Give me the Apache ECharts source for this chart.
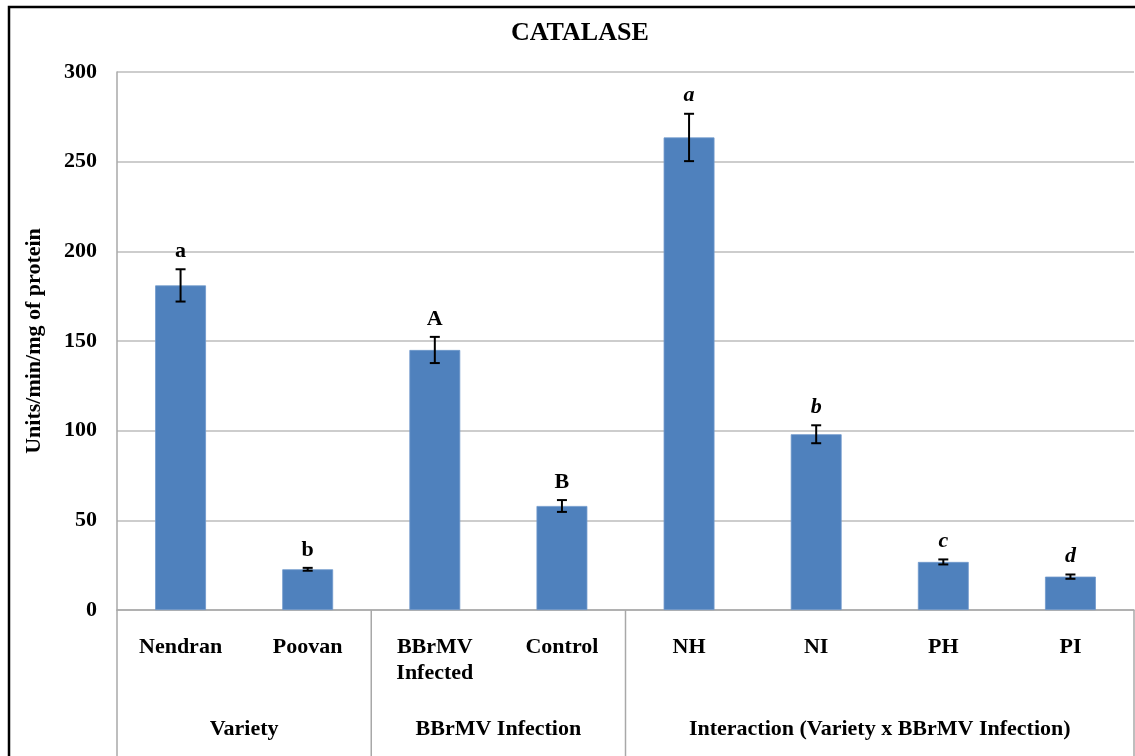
<!DOCTYPE html>
<html>
<head>
<meta charset="utf-8">
<script src="https://cdn.jsdelivr.net/npm/echarts@6/dist/echarts.min.js"></script>
<style>
  html, body { margin: 0; padding: 0; background: #fff; }
  #chart { width: 1135px; height: 756px; }
</style>
</head>
<body>
<div id="chart"></div>
<script>
// Catalase activity (Units/min/mg of protein), means with standard error
const categories = ['Nendran', 'Poovan', 'BBrMV\nInfected', 'Control', 'NH', 'NI', 'PH', 'PI'];
const catalase   = [181, 22.7, 145, 58, 263.5, 98, 26.8, 18.6];
const stdError   = [9, 0.8, 7.3, 3.3, 13.2, 5, 1.4, 1.2];
const letters    = ['a', 'b', 'A', 'B', 'a', 'b', 'c', 'd'];
const groupNames = ['Variety', 'BBrMV Infection', 'Interaction (Variety x BBrMV Infection)'];
const groupSizes = [2, 2, 4];
const yTicks     = { min: 0, max: 300, step: 50 };

const SERIF = '"Liberation Serif", "Times New Roman", serif';
const GRID_GRAY = '#bdbdbd';

const chart = echarts.init(document.getElementById('chart'), null, { renderer: 'canvas' });

const errorData = catalase.map((v, i) => [i, v, stdError[i], letters[i]]);

chart.setOption({
  animation: false,
  backgroundColor: '#fff',
  title: {
    text: 'CATALASE',
    left: 506, top: 15,
    textStyle: { fontFamily: SERIF, fontWeight: 'bold', fontSize: 26, color: '#000' }
  },
  grid: { left: 117, right: 1, top: 72, bottom: 146 },
  xAxis: {
    type: 'category',
    data: categories,
    axisLine: { show: true, lineStyle: { color: '#a8a8a8', width: 1.5 } },
    axisTick: { show: false },
    axisLabel: {
      interval: 0, margin: 24, color: '#000',
      fontFamily: SERIF, fontWeight: 'bold', fontSize: 22, lineHeight: 26
    }
  },
  yAxis: {
    type: 'value',
    min: yTicks.min, max: yTicks.max, interval: yTicks.step,
    name: 'Units/min/mg of protein',
    nameLocation: 'middle', nameGap: 72,
    nameTextStyle: { fontFamily: SERIF, fontWeight: 'bold', fontSize: 22, color: '#000' },
    axisLine: { show: true, lineStyle: { color: '#a8a8a8', width: 1.5 } },
    axisTick: { show: false },
    splitLine: { lineStyle: { color: GRID_GRAY, width: 1.5 } },
    axisLabel: { margin: 20, color: '#000', fontFamily: SERIF, fontWeight: 'bold', fontSize: 22 }
  },
  series: [
    {
      type: 'bar',
      data: catalase,
      barWidth: '40%',
      itemStyle: { color: '#4f81bd', borderColor: '#6f98cc', borderWidth: 0.8 }
    },
    {
      type: 'custom',
      data: errorData,
      z: 5,
      renderItem: function (params, api) {
        const i = api.value(0), v = api.value(1), e = api.value(2);
        const hi = api.coord([i, v + e]);
        const lo = api.coord([i, v - e]);
        const cap = 5;
        const italic = i >= 4;
        return {
          type: 'group',
          children: [
            { type: 'line', shape: { x1: hi[0], y1: hi[1], x2: lo[0], y2: lo[1] },
              style: { stroke: '#000', lineWidth: 2 } },
            { type: 'line', shape: { x1: hi[0] - cap, y1: hi[1], x2: hi[0] + cap, y2: hi[1] },
              style: { stroke: '#000', lineWidth: 2 } },
            { type: 'line', shape: { x1: lo[0] - cap, y1: lo[1], x2: lo[0] + cap, y2: lo[1] },
              style: { stroke: '#000', lineWidth: 2 } },
            { type: 'text', x: hi[0], y: hi[1] - 18,
              style: { text: letters[i], fill: '#000', align: 'center', verticalAlign: 'middle',
                       font: (italic ? 'italic ' : '') + 'bold 22px ' + SERIF } }
          ]
        };
      }
    }
  ]
});

// Group separators and group names under the category labels
function drawGroups() {
  const px = k => chart.convertToPixel({ xAxisIndex: 0 }, k);
  const band = px(1) - px(0);
  const edge = k => px(0) + (k - 0.5) * band;
  const axisY = chart.convertToPixel({ yAxisIndex: 0 }, 0);
  const bottomY = 756;
  const elements = [];
  let start = 0;
  const bounds = [0];
  groupSizes.forEach((n, g) => {
    const end = start + n;
    bounds.push(end);
    elements.push({
      type: 'text', x: (edge(start) + edge(end)) / 2, y: 729,
      style: { text: groupNames[g], fill: '#000', align: 'center', verticalAlign: 'middle',
               font: 'bold 22px ' + SERIF }
    });
    start = end;
  });
  bounds.forEach(k => {
    elements.push({
      type: 'line', shape: { x1: edge(k), y1: axisY, x2: edge(k), y2: bottomY },
      style: { stroke: '#a8a8a8', lineWidth: 1.5 }
    });
  });
  elements.push({
    type: 'rect', shape: { x: 9, y: 7, width: 1200, height: 800 },
    style: { fill: null, stroke: '#000', lineWidth: 2.5 }, z: 100
  });
  chart.setOption({ graphic: { elements: elements } });
}
drawGroups();
</script>
</body>
</html>
